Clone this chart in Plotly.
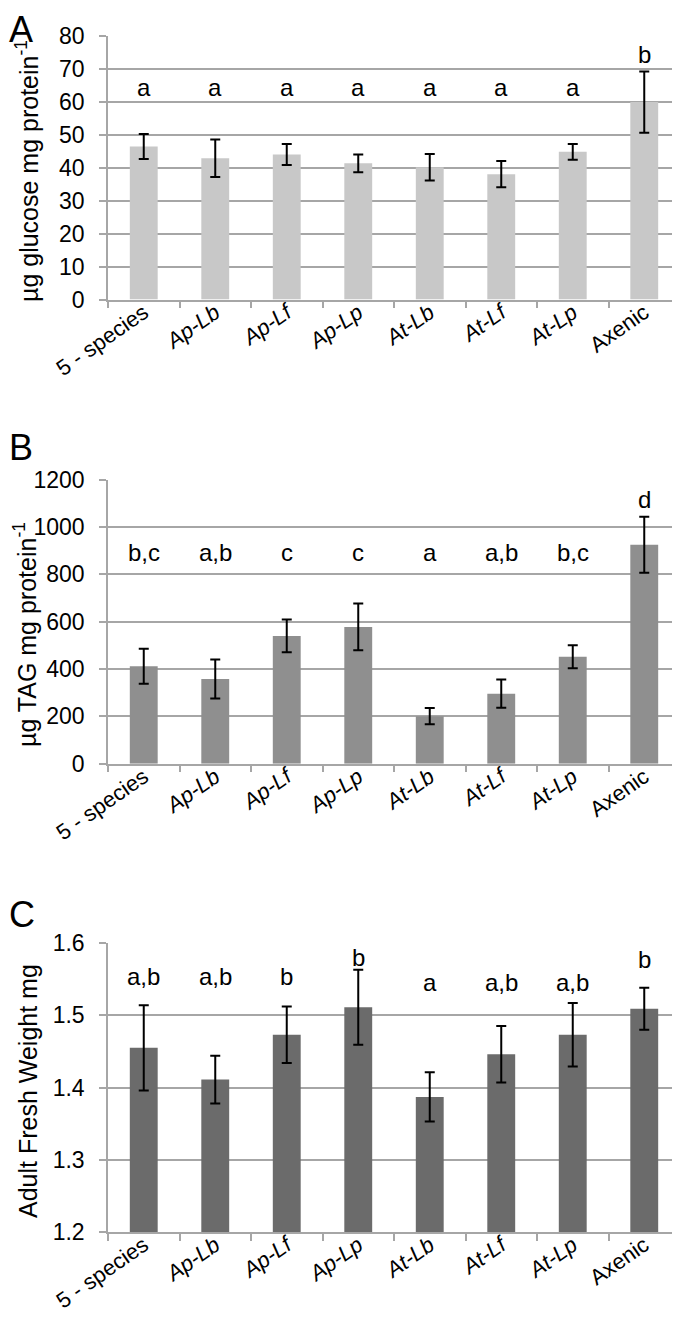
import plotly.graph_objects as go

categories = ["5 - species", "Ap-Lb", "Ap-Lf", "Ap-Lp", "At-Lb", "At-Lf", "At-Lp", "Axenic"]
tick_labels = ["5 - species", "<i>Ap-Lb</i>", "<i>Ap-Lf</i>", "<i>Ap-Lp</i>",
               "<i>At-Lb</i>", "<i>At-Lf</i>", "<i>At-Lp</i>", "Axenic"]

glucose = [46.5, 42.9, 44.1, 41.4, 40.2, 38.1, 44.9, 60.0]
glucose_err = [3.8, 5.7, 3.2, 2.7, 4.0, 4.0, 2.4, 9.3]
glucose_letters = ["a", "a", "a", "a", "a", "a", "a", "b"]

tag = [412, 358, 540, 578, 201, 296, 452, 925]
tag_err = [74, 82, 69, 99, 34, 60, 49, 118]
tag_letters = ["b,c", "a,b", "c", "c", "a", "a,b", "b,c", "d"]

weight = [1.455, 1.411, 1.473, 1.511, 1.387, 1.446, 1.473, 1.509]
weight_err = [0.059, 0.033, 0.039, 0.052, 0.034, 0.039, 0.044, 0.029]
weight_letters = ["a,b", "a,b", "b", "b", "a", "a,b", "a,b", "b"]

W, H = 680, 1318
FONT = "Liberation Sans, Arial, sans-serif"
GRID = "#a6a6a6"

panels = [
    dict(vals=glucose, err=glucose_err, letters=glucose_letters,
         letter_y=[64.5] * 7 + [74.5], color="#c8c8c8",
         top=28.3, bottom=291.5, rng=[0, 80], dtick=10, fmt="",
         title="µg glucose mg protein<sup>-1</sup>", title_x=19, title_y=163,
         tag="A", tag_top=-4),
    dict(vals=tag, err=tag_err, letters=tag_letters,
         letter_y=[891] * 7 + [1116], color="#8f8f8f",
         top=471.7, bottom=755.7, rng=[0, 1200], dtick=200, fmt="",
         title="µg TAG mg protein<sup>-1</sup>", title_x=17, title_y=627,
         tag="B", tag_top=418),
    dict(vals=weight, err=weight_err, letters=weight_letters,
         letter_y=[1.553, 1.553, 1.553, 1.580, 1.545, 1.546, 1.546, 1.577], color="#6b6b6b",
         top=935, bottom=1224, rng=[1.2, 1.6], dtick=0.1, fmt=".1f",
         title="Adult Fresh Weight mg", title_x=20, title_y=1083,
         tag="C", tag_top=885),
]

fig = go.Figure()
annotations = []
x0, x1 = 100 / W, 672 / W

for i, p in enumerate(panels):
    n = "" if i == 0 else str(i + 1)
    xa, ya = "x" + n, "y" + n
    fig.add_trace(go.Bar(
        x=categories, y=p["vals"], xaxis=xa, yaxis=ya,
        marker=dict(color=p["color"], line=dict(width=0)),
        error_y=dict(type="data", array=p["err"], visible=True,
                     color="black", thickness=2, width=5),
        showlegend=False,
    ))
    dom = [1 - p["bottom"] / H, 1 - p["top"] / H]
    fig.layout["xaxis" + n] = dict(
        domain=[x0, x1], anchor=ya, type="category",
        tickmode="array", tickvals=categories, ticktext=tick_labels,
        tickangle=-35, tickfont=dict(family=FONT, size=22, color="black"),
        ticklabelstandoff=-10,
        showline=True, linecolor=GRID, linewidth=1.5,
        ticks="outside", tickson="boundaries", ticklen=7, tickcolor=GRID, tickwidth=1.5,
        showgrid=False, automargin=False, fixedrange=True,
    )
    fig.layout["yaxis" + n] = dict(
        domain=dom, anchor=xa, range=p["rng"], dtick=p["dtick"], tick0=p["rng"][0],
        tickformat=p["fmt"], tickfont=dict(family=FONT, size=23, color="black"),
        showline=True, linecolor=GRID, linewidth=1.5,
        ticks="outside", ticklen=7, tickcolor=GRID, tickwidth=1.5,
        ticklabelstandoff=10,
        showgrid=True, gridcolor=GRID, gridwidth=1.5,
        zeroline=False, automargin=False, fixedrange=True,
    )
    for c, lt, ly in zip(categories, p["letters"], p["letter_y"]):
        annotations.append(dict(x=c, y=ly, xref=xa, yref=ya, text=lt, showarrow=False,
                                font=dict(family=FONT, size=24, color="black"),
                                xanchor="center", yanchor="middle"))
    annotations.append(dict(x=p["title_x"] / W, y=1 - p["title_y"] / H,
                            xref="paper", yref="paper", text=p["title"], textangle=-90,
                            showarrow=False, font=dict(family=FONT, size=25, color="black"),
                            xanchor="center", yanchor="middle"))
    annotations.append(dict(x=0, y=min(1.0, 1 - p["tag_top"] / H), xref="paper", yref="paper",
                            text=p["tag"], showarrow=False, borderpad=0,
                            font=dict(family=FONT, size=36, color="black"),
                            xanchor="left", yanchor="top"))

fig.update_layout(
    width=W, height=H, margin=dict(l=0, r=0, t=0, b=0),
    plot_bgcolor="white", paper_bgcolor="white",
    bargap=0.61, annotations=annotations,
)

fig.write_html("out.html")
